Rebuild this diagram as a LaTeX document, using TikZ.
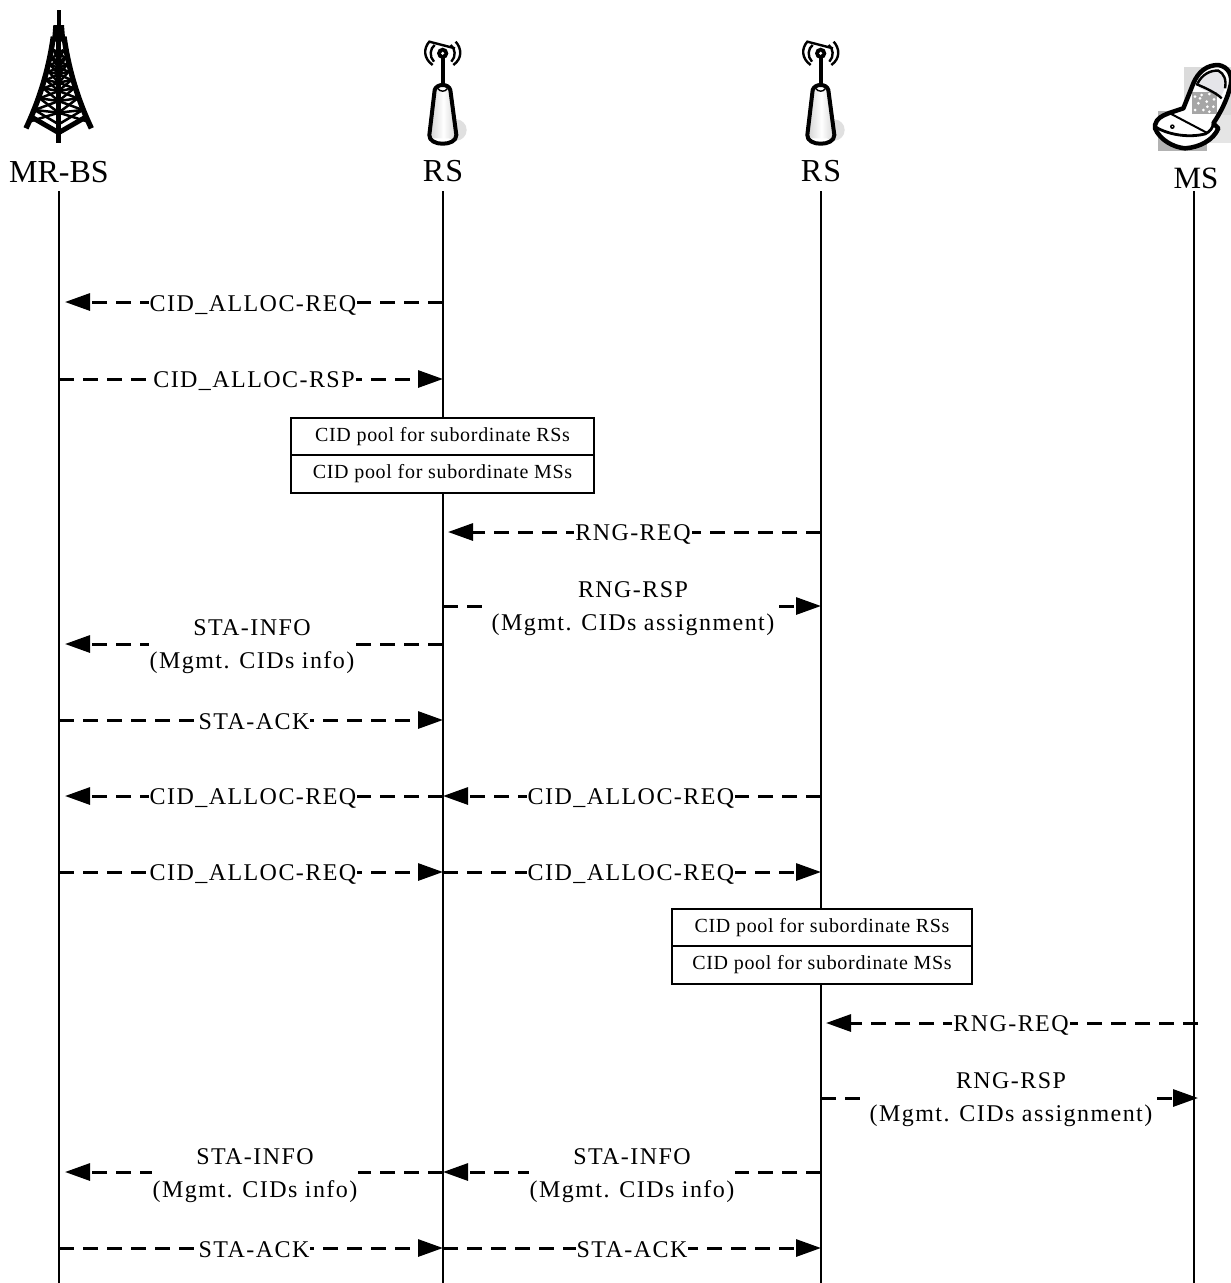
\documentclass[tikz,border=0pt]{standalone}
\usepackage{fontspec}
\setmainfont{Liberation Serif}
\usetikzlibrary{arrows.meta}
\newfontfamily\lblface[LetterSpace=6]{Liberation Serif}
\newfontfamily\poolface[LetterSpace=3.5]{Liberation Serif}
\newcommand{\lblfont}{\lblface\fontsize{24}{33}\selectfont}
\tikzset{
  x=1pt,y=-1pt,
  life/.style={line width=1.8pt,black},
  msg/.style={line width=3pt,dash pattern=on 15pt off 9pt,-{Triangle[length=25pt,width=17pt]}},
  msgl/.style={fill=white,inner sep=1pt,font=\lblfont,align=center},
  head/.style={font=\fontsize{32}{36}\selectfont,inner sep=0pt},
  pool/.style={draw=black,line width=1.6pt,fill=white,minimum width=303pt,minimum height=37.5pt,inner sep=0pt,font=\poolface\fontsize{20}{22}\selectfont},
}
\newcommand{\rsicon}[1]{%
\begin{scope}[shift={(#1,30)},xscale=1/3,yscale=1/3]
  \fill[black!12] (168,300) circle (32);
  \shade[left color=black!18,right color=black!18,middle color=white] (102,175) -- (152,175) -- (172,325) -- (88,325) -- cycle;
  \draw[line width=4pt,line join=round] (104,180) .. controls (110,160) and (146,160) .. (151,180) -- (169,315) .. controls (170,350) and (86,350) .. (88,315) -- cycle;
  \draw[line width=1.4pt] (114,176) .. controls (120,186) and (136,186) .. (142,176);
  \draw[line width=4pt] (128,70) -- (128,165);
  \fill (128,70) circle (17);
  \fill[white] (128,70) circle (5);
  \draw[line width=2.4pt] (102,95) .. controls (87,80) and (90,55) .. (104,45);
  \draw[line width=2.4pt] (154,95) .. controls (169,80) and (166,55) .. (152,45);
  \draw[line width=2.4pt] (98,105) .. controls (70,85) and (70,55) .. (88,35) -- (165,55);
  \draw[line width=2.4pt] (160,105) .. controls (188,85) and (185,55) .. (167,35);
\end{scope}}
\begin{document}
\begin{tikzpicture}
\useasboundingbox (0,0) rectangle (1231,1283);
\fill[white] (0,0) rectangle (1231,1283);
% tower
\begin{scope}[shift={(0,0)},xscale=1/3,yscale=1/3]
  \fill (170,30) rectangle (182,78);
  \fill (160,75) -- (192,75) -- (196,125) -- (156,125) -- cycle;
  \draw[line width=5.4pt] (160,110) .. controls (146,210) and (118,300) .. (78,385);
  \draw[line width=5.4pt] (192,110) .. controls (206,210) and (234,300) .. (274,385);
  \draw[line width=4.4pt] (176,110) -- (176,430);
  \draw[line width=5pt] (96,352) -- (176,398) -- (256,352);
  \foreach \ya/\da/\yb/\db in {150/15/175/20,175/20/195/25,195/25/215/30,215/30/240/38,240/38/265/46,265/46/295/57,295/57/330/72,330/72/365/88}{
    \draw[line width=2.5pt] (176-\da,\ya) -- (176,\ya+8) -- (176+\da,\ya);
    \draw[line width=2.5pt] (176-\da,\ya) -- (176,\yb+8) -- (176+\da,\ya);
    \draw[line width=2.5pt] (176-\db,\yb) -- (176,\ya+8) -- (176+\db,\yb);
  }
\end{scope}
\rsicon{400}
\rsicon{778}
% phone
\begin{scope}[shift={(1150,60)},xscale=1/3,yscale=1/3]
  \fill[black!14] (103,22) rectangle (243,165);
  \fill[black!30] (23,153) rectangle (171,272);
  \fill[black!10] (171,165) rectangle (243,250);
  \path[fill=white] (15,195) .. controls (20,175) and (35,168) .. (55,160) -- (100,145) -- (130,70) .. controls (145,35) and (170,15) .. (205,15) .. controls (235,20) and (248,45) .. (242,75) .. controls (232,120) and (210,160) .. (190,190) -- (205,205) .. controls (190,240) and (150,262) .. (105,265) .. controls (70,262) and (30,240) .. (15,205) -- cycle;
  \fill[blue!12!black!10] (143,75) .. controls (155,45) and (180,32) .. (205,35) .. controls (222,42) and (230,60) .. (222,90) -- (212,112) -- (150,85) -- cycle;
  \fill[black!35] (125,95) rectangle (200,162);
  \foreach \p/\q in {135/110,155/105,178/102,192/118,145/130,170/125,190/140,135/150,160/150,178/155,150/115,172/140}{\fill[white] (\p,\q) circle (4.5);}
  \draw[line width=4.5pt,line join=round] (15,195) .. controls (20,175) and (35,168) .. (55,160) -- (100,145) -- (130,70) .. controls (145,35) and (170,15) .. (205,15) .. controls (235,20) and (248,45) .. (242,75) .. controls (232,120) and (210,160) .. (190,190) -- (205,205) .. controls (190,240) and (150,262) .. (105,265) .. controls (70,262) and (30,240) .. (15,205) -- cycle;
  \draw[line width=2.8pt] (15,200) .. controls (50,222) and (110,235) .. (165,222) .. controls (180,215) and (188,205) .. (190,190);
  \draw[line width=2pt] (60,160) -- (170,218);
  \draw[line width=2.4pt] (138,72) .. controls (170,85) and (200,100) .. (215,115);
  \draw[line width=2.4pt] (143,70) .. controls (155,45) and (180,30) .. (205,32) .. controls (222,40) and (230,60) .. (225,85);
  \fill (67,200) circle (7);
  \fill[white] (67,200) circle (2);
\end{scope}
% headers
\node[head] (bs) at (59,172) {MR-BS};
\node[head] (rsa) at (443,171) {R\kern1pt S};
\node[head] (rsb) at (821,171) {R\kern1pt S};
\node[head,font=\fontsize{31}{33}\selectfont] (ms) at (1196,178) {MS};
\coordinate (bsb) at (59,1283);
\coordinate (rsab) at (443,1283);
\coordinate (rsbb) at (821,1283);
\coordinate (msb) at (1194,1283);
\draw[life] (59,191) -- (bsb);
\draw[life] (443,191) -- (rsab);
\draw[life] (821,191) -- (rsbb);
\draw[life] (1194,191) -- (msb);
% anchors on lifelines
\foreach \y in {302,379,532,606,644,720,796,872,1023,1098,1172,1248}{
  \coordinate (b\y) at (59,\y);
  \coordinate (a\y) at (443,\y);
  \coordinate (c\y) at (821,\y);
  \coordinate (m\y) at (1198,\y);
}
% messages
\draw[msg,shorten >=6pt] (a302) -- (b302);
\node[msgl] (l1) at (253,305) {CID\_ALLOC-REQ};
\draw[msg] (b379) -- (a379);
\node[msgl] (l2) at (254,381) {CID\_ALLOC-RSP};
\node[pool] (p1) at (442.5,436.5) {CID pool for subordinate RSs};
\node[pool] (p2) at (442.5,474) {CID pool for subordinate MSs};
\draw[msg,shorten >=5pt] (c532) -- (a532);
\node[msgl] (l3) at (633,534) {RNG-REQ};
\draw[msg] (a606) -- (c606);
\node[msgl] (l4) at (633,609) {RNG-RSP\\(Mgmt. CIDs assignment)};
\draw[msg,shorten >=6pt] (a644) -- (b644);
\node[msgl] (l5) at (252,647) {STA-INFO\\(Mgmt. CIDs info)};
\draw[msg] (b720) -- (a720);
\node[msgl] (l6) at (254,722) {STA-ACK};
\draw[msg,shorten >=6pt] (a796) -- (b796);
\node[msgl] (l7) at (253,798) {CID\_ALLOC-REQ};
\draw[msg] (c796) -- (a796);
\node[msgl] (l8) at (631,798) {CID\_ALLOC-REQ};
\draw[msg] (b872) -- (a872);
\node[msgl] (l9) at (253,874) {CID\_ALLOC-REQ};
\draw[msg] (a872) -- (c872);
\node[msgl] (l10) at (631,874) {CID\_ALLOC-REQ};
\node[pool,minimum width=300pt] (p3) at (822,927.5) {CID pool for subordinate RSs};
\node[pool,minimum width=300pt] (p4) at (822,965) {CID pool for subordinate MSs};
\draw[msg,shorten >=5pt] (m1023) -- (c1023);
\node[msgl] (l11) at (1011,1025) {RNG-REQ};
\draw[msg] (c1098) -- (m1098);
\node[msgl] (l12) at (1011,1100) {RNG-RSP\\(Mgmt. CIDs assignment)};
\draw[msg,shorten >=6pt] (a1172) -- (b1172);
\node[msgl] (l13) at (255,1176) {STA-INFO\\(Mgmt. CIDs info)};
\draw[msg] (c1172) -- (a1172);
\node[msgl] (l14) at (632,1176) {STA-INFO\\(Mgmt. CIDs info)};
\draw[msg] (b1248) -- (a1248);
\node[msgl] (l15) at (254,1250) {STA-ACK};
\draw[msg] (a1248) -- (c1248);
\node[msgl] (l16) at (632,1250) {STA-ACK};
\end{tikzpicture}
\end{document}
